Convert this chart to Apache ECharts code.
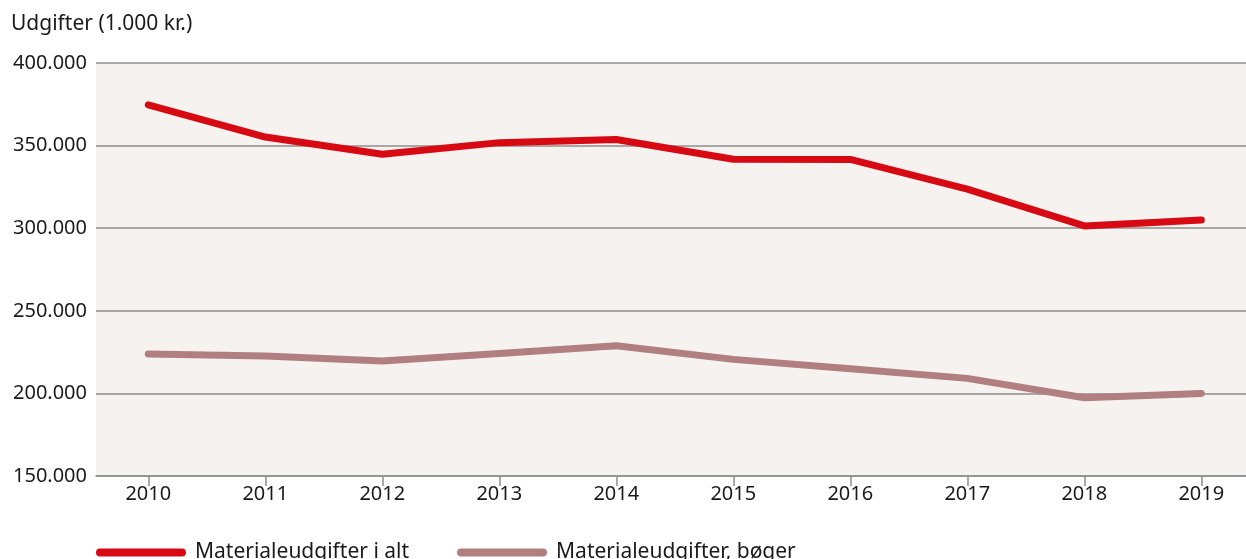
<!DOCTYPE html>
<html>
<head>
<meta charset="utf-8">
<script src="https://cdn.jsdelivr.net/npm/echarts@6/dist/echarts.min.js"></script>
<style>
  html, body { margin: 0; padding: 0; background: #fff; }
  #main { width: 1246px; height: 559px; }
</style>
</head>
<body>
<div id="main"></div>
<script>
// data
const years = [2010, 2011, 2012, 2013, 2014, 2015, 2016, 2017, 2018, 2019];
const totalSpend = [374700, 355200, 344800, 351800, 353700, 341700, 341600, 323600, 301400, 304900];
const bookSpend = [223800, 222600, 219600, 224200, 228800, 220600, 214900, 209100, 197400, 200000];
const yTicks = [150000, 200000, 250000, 300000, 350000, 400000];

const FONT = "Noto Sans";
const TEXT = "#1a1a1a";
const GRID = "#8e8e8e";

// "400.000" style thousands separator
const fmt = v => String(v).replace(/\B(?=(\d{3})+(?!\d))/g, ".");

const capsule = "path://M4,0 L86,0 A4,4 0 0 1 86,8 L4,8 A4,4 0 0 1 4,0 Z";

const chart = echarts.init(document.getElementById("main"));
chart.setOption({
  animation: false,
  textStyle: { fontFamily: FONT, color: TEXT },
  title: {
    text: "Udgifter (1.000 kr.)",
    left: 6,
    top: 9,
    textStyle: { fontFamily: FONT, fontSize: 21, fontWeight: "normal", color: TEXT }
  },
  legend: {
    left: 91,
    top: 537,
    itemWidth: 92,
    itemHeight: 8,
    itemGap: 48,
    textStyle: { fontFamily: FONT, fontSize: 21, color: TEXT, padding: [0, 0, 0, 3] },
    data: [
      { name: "Materialeudgifter i alt", icon: capsule },
      { name: "Materialeudgifter, bøger", icon: capsule }
    ]
  },
  grid: {
    left: 96, right: 0, top: 63, bottom: 83,
    show: true, backgroundColor: "#f5f2ef", borderWidth: 0
  },
  xAxis: {
    type: "value",
    min: years[0] - 0.447,
    max: years[years.length - 1] + 0.382,
    axisLine: { show: true, lineStyle: { color: GRID, width: 1.5 } },
    axisTick: { show: true, customValues: years, length: 10, lineStyle: { color: GRID, width: 1.5 } },
    axisLabel: {
      customValues: years, formatter: v => String(v),
      fontFamily: FONT, fontSize: 20, color: TEXT, margin: 8
    },
    splitLine: { show: false }
  },
  yAxis: {
    type: "value",
    min: yTicks[0],
    max: yTicks[yTicks.length - 1],
    interval: 50000,
    axisLine: { show: false },
    axisTick: { show: false },
    axisLabel: { formatter: fmt, fontFamily: FONT, fontSize: 20, color: TEXT, margin: 9 },
    splitLine: { lineStyle: { color: GRID, width: 1.5 } }
  },
  series: [
    {
      name: "Materialeudgifter i alt",
      type: "line",
      data: years.map((y, i) => [y, totalSpend[i]]),
      showSymbol: false,
      color: "#d70a14",
      lineStyle: { width: 7, cap: "round", join: "round", color: "#d70a14" }
    },
    {
      name: "Materialeudgifter, bøger",
      type: "line",
      data: years.map((y, i) => [y, bookSpend[i]]),
      showSymbol: false,
      color: "#b27f81",
      lineStyle: { width: 7, cap: "round", join: "round", color: "#b27f81" }
    }
  ]
});
</script>
</body>
</html>
